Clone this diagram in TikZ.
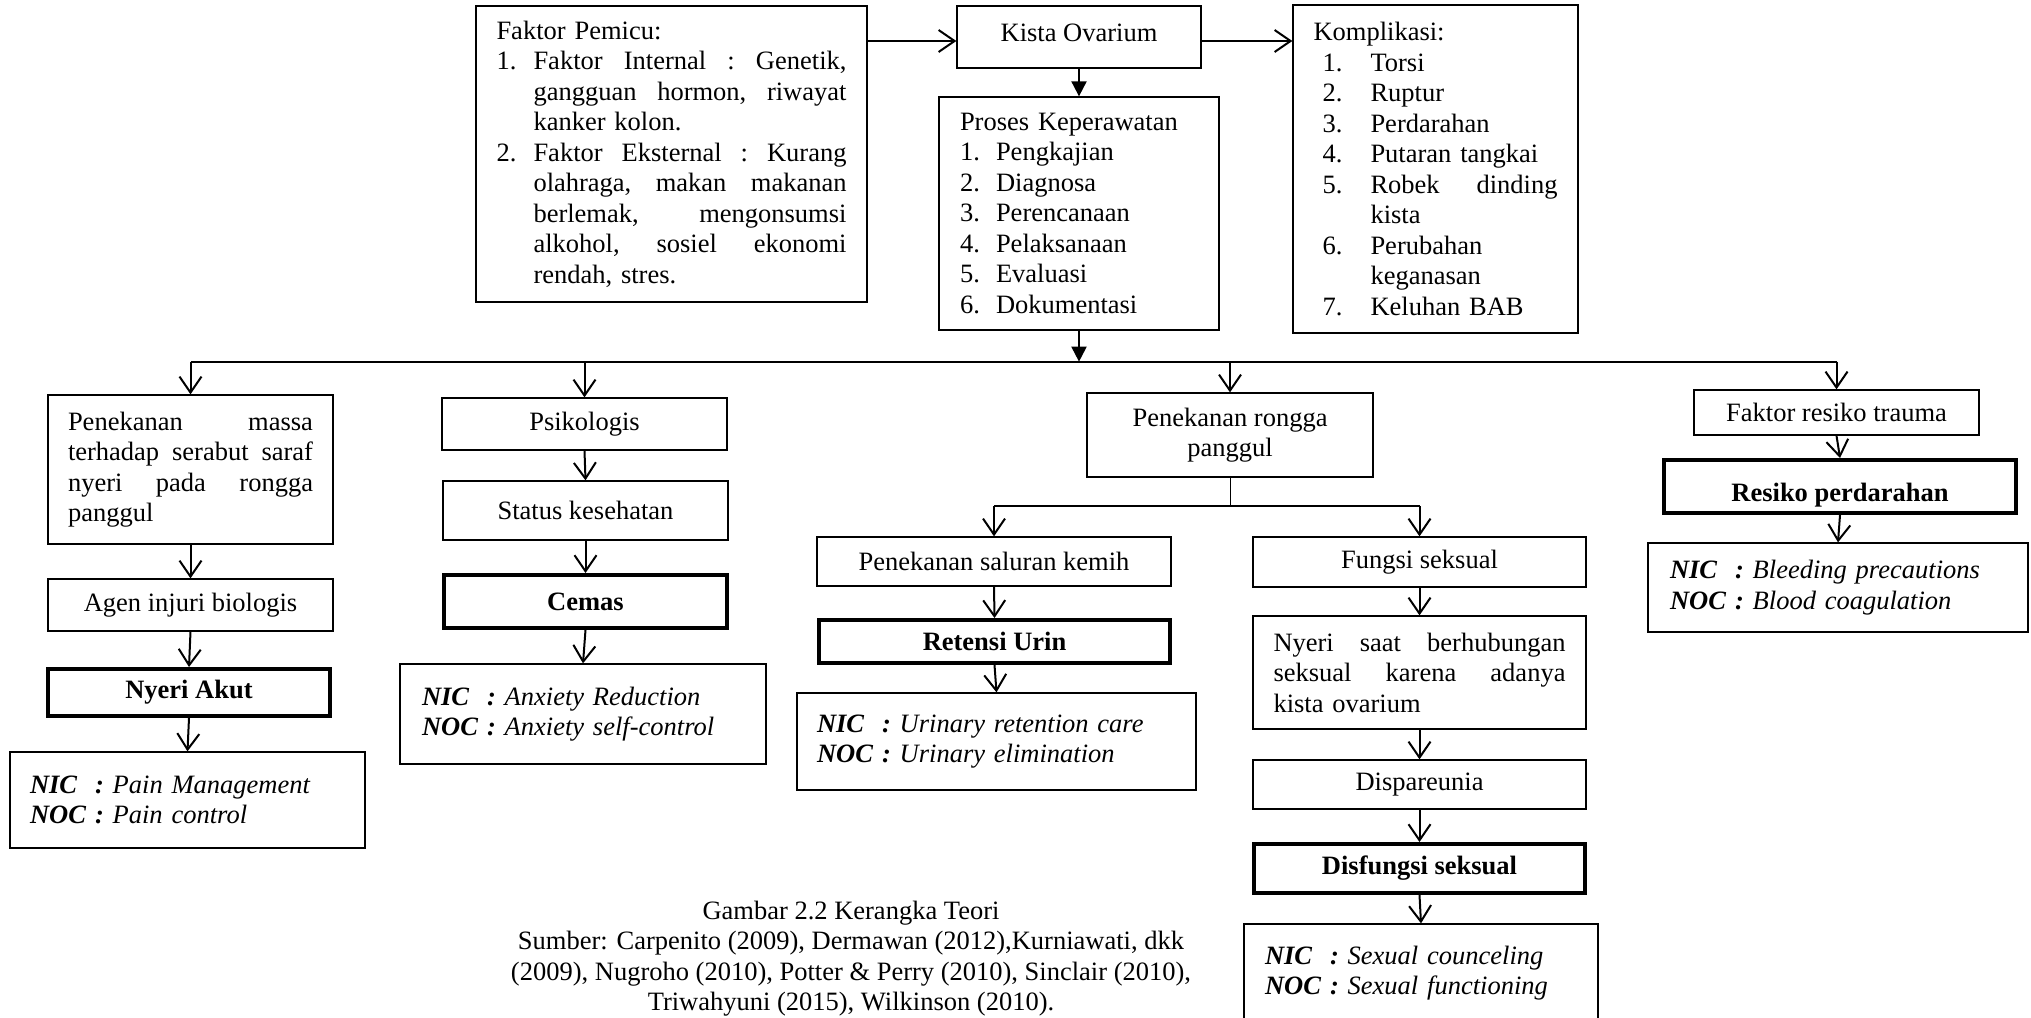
\documentclass[tikz,border=0pt]{standalone}
\usepackage{fontspec}
\setmainfont{Liberation Serif}[ItalicFont={* Italic}, BoldFont={* Bold}, BoldItalicFont={* Bold Italic}]
\usetikzlibrary{arrows.meta}
\newcommand{\jl}[2]{\leavevmode\hbox to #1{#2}}
\newcommand{\nicnoc}[2]{\textbf{\textit{NIC}}\ \ \textbf{\textit{:}} \textit{#1}\\\textbf{\textit{NOC}} \textbf{\textit{:}} \textit{#2}}
\begin{document}
\begin{tikzpicture}[x=1pt,y=-1pt,
  font=\fontsize{26.5}{30.5}\selectfont,
  box/.style={draw, line width=1.3pt, inner sep=0pt, align=center},
  thickbox/.style={draw, line width=4pt, inner sep=0pt, align=center, font=\fontsize{26.5}{30.5}\selectfont\bfseries},
  sz/.style 2 args={minimum width=#1, minimum height=#2},
  conn/.style={line width=2pt},
  arr/.style={conn, -{Straight Barb[length=16pt,width=22pt]}},
  farr/.style={conn, -{Triangle[length=15pt,width=15pt]}},
]
\path[use as bounding box, fill=white] (0,0) rectangle (2031,1017);

% top row
\node[box, sz={391}{296}, text width=350pt, align=left] (faktor) at (671.5,154) {Faktor Pemicu:\\
\makebox[37pt][l]{1.}\jl{313pt}{Faktor\hfill Internal\hfill :\hfill Genetik,}\\
\hspace*{37pt}\jl{313pt}{gangguan\hfill hormon,\hfill riwayat}\\
\hspace*{37pt}kanker kolon.\\
\makebox[37pt][l]{2.}\jl{313pt}{Faktor\hfill Eksternal\hfill :\hfill Kurang}\\
\hspace*{37pt}\jl{313pt}{olahraga,\hfill makan\hfill makanan}\\
\hspace*{37pt}\jl{313pt}{berlemak,\hfill mengonsumsi}\\
\hspace*{37pt}\jl{313pt}{alkohol,\hfill sosiel\hfill ekonomi}\\
\hspace*{37pt}rendah, stres.};

\node[box, sz={244}{62}, text depth=9pt] (kista) at (1079,37) {Kista Ovarium};

\node[box, sz={285}{328}, text width=244pt, align=left] (komp) at (1435.5,169) {Komplikasi:\\
\hspace*{9pt}\makebox[48pt][l]{1.}Torsi\\
\hspace*{9pt}\makebox[48pt][l]{2.}Ruptur\\
\hspace*{9pt}\makebox[48pt][l]{3.}Perdarahan\\
\hspace*{9pt}\makebox[48pt][l]{4.}Putaran tangkai\\
\hspace*{9pt}\makebox[48pt][l]{5.}\jl{187pt}{Robek\hfill dinding}\\
\hspace*{57pt}kista\\
\hspace*{9pt}\makebox[48pt][l]{6.}Perubahan\\
\hspace*{57pt}keganasan\\
\hspace*{9pt}\makebox[48pt][l]{7.}Keluhan BAB};

\node[box, sz={280}{233}, text width=238pt, align=left] (proses) at (1079,213.5) {Proses Keperawatan\\
\makebox[36pt][l]{1.}Pengkajian\\
\makebox[36pt][l]{2.}Diagnosa\\
\makebox[36pt][l]{3.}Perencanaan\\
\makebox[36pt][l]{4.}Pelaksanaan\\
\makebox[36pt][l]{5.}Evaluasi\\
\makebox[36pt][l]{6.}Dokumentasi};

% column 1
\node[box, sz={285}{149}, text width=245pt, align=left] (b1) at (190.5,469.5) {\jl{245pt}{Penekanan\hfill massa}\\
\jl{245pt}{terhadap\hfill serabut\hfill saraf}\\
\jl{245pt}{nyeri\hfill pada\hfill rongga}\\
panggul};
\node[box, sz={285}{52}] (agen) at (190.5,605) {Agen injuri biologis};
\node[thickbox, sz={282}{47}] (nyeri) at (189,692.5) {Nyeri Akut};
\node[box, sz={355}{96}, text width=315pt, align=left] (nic1) at (187.5,800) {\nicnoc{Pain Management}{Pain control}};

% column 2
\node[box, sz={285}{52}] (psi) at (584.5,424) {Psikologis};
\node[box, sz={285}{59}] (status) at (585.5,510.5) {Status kesehatan};
\node[thickbox, sz={283}{53}] (cemas) at (585.5,601.5) {Cemas};
\node[box, sz={366}{100}, text width=322pt, align=left] (nic2) at (583,714) {\nicnoc{Anxiety Reduction}{Anxiety self-control}};

% column 3
\node[box, sz={286}{84}] (rongga) at (1230,435) {Penekanan rongga\\panggul};
\node[box, sz={354}{49}] (kemih) at (994,561.5) {Penekanan saluran kemih};
\node[thickbox, sz={351}{43}] (retensi) at (994.5,641.5) {Retensi Urin};
\node[box, sz={399}{97}, text width=359pt, align=left] (nic3) at (996.5,741.5) {\nicnoc{Urinary retention care}{Urinary elimination}};

\node[box, sz={333}{50}] (fungsi) at (1419.5,562) {Fungsi seksual};
\node[box, sz={333}{113}, text width=292pt, align=left] (nyeri2) at (1419.5,672.5) {\jl{292pt}{Nyeri\hfill saat\hfill berhubungan}\\
\jl{292pt}{seksual\hfill karena\hfill adanya}\\
kista ovarium};
\node[box, sz={333}{49}] (dispa) at (1419.5,784.5) {Dispareunia};
\node[thickbox, sz={331}{49}] (disf) at (1419.5,868.5) {Disfungsi seksual};
\node[box, sz={354}{98}, text width=312pt, align=left] (nic4) at (1421,973) {\nicnoc{Sexual counceling}{Sexual functioning}};

% column 5
\node[box, sz={285}{45}] (faktorres) at (1836.5,412.5) {Faktor resiko trauma};
\node[thickbox, sz={352}{53}, text height=30pt, text depth=0pt] (resiko) at (1840,486.5) {Resiko perdarahan};
\node[box, sz={380}{89}, text width=336pt, align=left] (nic5) at (1838,587.5) {\nicnoc{Bleeding precautions}{Blood coagulation}};

% caption
\node[align=center] (cap) at (851,958.5) {Gambar 2.2 Kerangka Teori\\
Sumber: Carpenito (2009), Dermawan (2012),Kurniawati, dkk\\
(2009), Nugroho (2010), Potter \& Perry (2010), Sinclair (2010),\\
Triwahyuni (2015), Wilkinson (2010).};

% top connectors
\coordinate (ka) at ([yshift=-4pt]kista.west);
\coordinate (ke) at ([yshift=-4pt]kista.east);
\draw[arr] (faktor.east |- ka) -- (ka);
\draw[arr] (ke) -- (komp.west |- ke);
\draw[farr] (kista.south) -- (proses.north);
\path (proses.south) ++(0,31) coordinate (hub);
\draw[farr] (proses.south) -- (hub);

% main distribution line
\draw[conn] (b1.north |- hub) -- (faktorres.north |- hub);
\draw[arr] (b1.north |- hub) -- (b1.north);
\draw[arr] (psi.north |- hub) -- (psi.north);
\draw[arr] (rongga.north |- hub) -- (rongga.north);
\draw[arr] (faktorres.north |- hub) -- (faktorres.north);

% column 1 chain
\draw[arr] (b1.south) -- (agen.north);
\draw[arr] (agen.south) -- (nyeri.north);
\draw[arr] (nyeri.south) -- (nic1.north);
% column 2 chain
\draw[arr] (psi.south) -- (status.north);
\draw[arr] (status.south) -- (cemas.north);
\draw[arr] (cemas.south) -- (nic2.north);
% column 3 branch
\path (rongga.south) ++(0,28.5) coordinate (sub);
\draw[line width=1pt] (rongga.south) -- (sub);
\draw[conn] (kemih.north |- sub) -- (fungsi.north |- sub);
\draw[arr] (kemih.north |- sub) -- (kemih.north);
\draw[arr] (fungsi.north |- sub) -- (fungsi.north);
\draw[arr] (kemih.south) -- (retensi.north);
\draw[arr] (retensi.south) -- (nic3.north);
\draw[arr] (fungsi.south) -- (nyeri2.north);
\draw[arr] (nyeri2.south) -- (dispa.north);
\draw[arr] (dispa.south) -- (disf.north);
\draw[arr] (disf.south) -- (nic4.north);
% column 5 chain
\draw[arr] (faktorres.south) -- (resiko.north);
\draw[arr] (resiko.south) -- (nic5.north);
\end{tikzpicture}
\end{document}
